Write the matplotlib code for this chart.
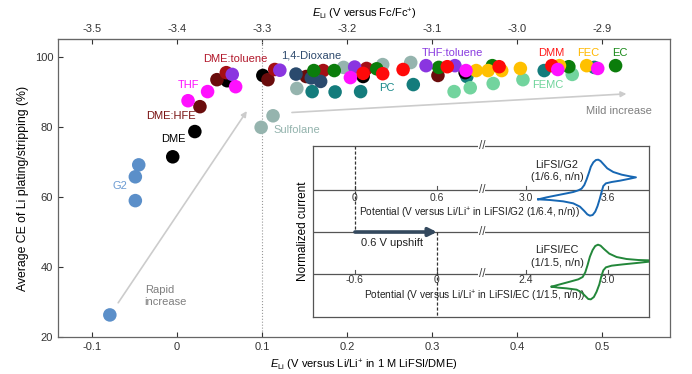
import matplotlib.pyplot as plt
import numpy as np

plt.rcParams['font.family'] = ['Liberation Sans', 'DejaVu Sans']
plt.rcParams['mathtext.fontset'] = 'custom'
plt.rcParams['mathtext.rm'] = 'Liberation Sans'
plt.rcParams['mathtext.it'] = 'Liberation Sans:italic'

# ---- main scatter data (E_Li vs Li/Li+ in 1 M LiFSI/DME, average CE %) ----
g2_x = [-0.079, -0.049, -0.049, -0.045]
g2_y = [26.3, 58.9, 65.7, 69.1]
dme_x = [-0.005, 0.021, 0.059, 0.101, 0.219, 0.339]
dme_y = [71.4, 78.6, 93.1, 94.6, 94.3, 95.4]
hfe_x = [0.027, 0.047, 0.107, 0.152, 0.307]
hfe_y = [85.7, 93.4, 93.4, 94.3, 94.6]
tol_x = [0.058, 0.115, 0.172, 0.223]
tol_y = [95.4, 96.3, 96.0, 96.6]
thf_x = [0.013, 0.036, 0.069, 0.204, 0.340, 0.448, 0.495]
thf_y = [87.4, 90.0, 91.4, 94.0, 96.0, 96.3, 96.6]
thftol_x = [0.065, 0.121, 0.209, 0.293, 0.327]
thftol_y = [94.9, 96.1, 97.0, 97.4, 97.4]
diox_x = [0.140, 0.158, 0.169]
diox_y = [95.0, 93.9, 92.9]
sulf_x = [0.099, 0.113, 0.141, 0.196, 0.242, 0.275]
sulf_y = [79.8, 83.1, 90.9, 96.9, 97.7, 98.3]
pc_x = [0.159, 0.186, 0.216, 0.278, 0.341, 0.432, 0.491]
pc_y = [90.0, 89.9, 90.0, 92.0, 94.3, 96.0, 96.9]
ec_x = [0.161, 0.185, 0.235, 0.308, 0.371, 0.461, 0.516]
ec_y = [96.0, 96.0, 96.5, 96.9, 97.4, 97.1, 97.4]
dmm_x = [0.219, 0.242, 0.266, 0.318, 0.379, 0.441]
dmm_y = [95.2, 95.1, 96.3, 97.1, 97.1, 97.4]
fec_x = [0.352, 0.366, 0.382, 0.404, 0.450, 0.482]
fec_y = [96.0, 96.0, 96.0, 96.6, 97.4, 97.4]
femc_x = [0.326, 0.345, 0.372, 0.407, 0.465]
femc_y = [90.0, 91.1, 92.3, 93.4, 94.9]

# ---- inset CV curves (potential V, normalized current) ----
g2_cv_v = [3.090, 3.151, 3.224, 3.298, 3.346, 3.383, 3.407, 3.427, 3.444, 3.461, 3.475,
           3.493, 3.512, 3.529, 3.546, 3.566, 3.595, 3.639, 3.700, 3.761, 3.805,
           3.761, 3.688, 3.627, 3.585, 3.566, 3.554, 3.541, 3.524, 3.507, 3.488, 3.468,
           3.449, 3.427, 3.395, 3.346, 3.273, 3.176, 3.090]
g2_cv_i = [-0.467, -0.367, -0.267, -0.167, -0.10, -0.017, 0.067, 0.25, 0.533, 0.867, 1.167,
           1.383, 1.50, 1.517, 1.45, 1.30, 1.083, 0.90, 0.767, 0.683, 0.633,
           0.567, 0.467, 0.40, 0.333, 0.20, -0.083, -0.417, -0.80, -1.083, -1.25, -1.283,
           -1.217, -1.05, -0.833, -0.667, -0.567, -0.50, -0.467]
ec_cv_v = [2.588, 2.649, 2.722, 2.783, 2.815, 2.834, 2.851, 2.868, 2.888, 2.907, 2.927,
           2.946, 2.971, 3.010, 3.063, 3.136, 3.222, 3.302,
           3.302, 3.210, 3.112, 3.027, 2.985, 2.966, 2.951, 2.937, 2.917, 2.897, 2.875,
           2.856, 2.834, 2.807, 2.771, 2.697, 2.637, 2.588]
ec_cv_i = [-0.633, -0.517, -0.383, -0.267, -0.15, 0.083, 0.45, 0.867, 1.20, 1.40, 1.467,
           1.417, 1.25, 1.017, 0.85, 0.75, 0.70, 0.683,
           0.617, 0.55, 0.483, 0.417, 0.333, 0.183, -0.133, -0.517, -0.883, -1.15, -1.267,
           -1.25, -1.10, -0.917, -0.783, -0.717, -0.683, -0.633]
upper_ticks = [0, 0.6, 3.0, 3.6]
lower_ticks = [-0.6, 0, 2.4, 3.0]

fig = plt.figure(figsize=(6.92, 3.74), dpi=100)
ax = fig.add_axes([0.0838, 0.0989, 0.8844, 0.7968])

series = [
    (sulf_x, sulf_y, '#95b4ae'),
    (g2_x, g2_y, '#5b8fc9'),
    (pc_x, pc_y, '#147c7c'),
    (femc_x, femc_y, '#72d49e'),
    (dme_x, dme_y, '#000000'),
    (hfe_x, hfe_y, '#6a0c0c'),
    (tol_x, tol_y, '#a50f15'),
    (diox_x, diox_y, '#2a4a6d'),
    (ec_x, ec_y, '#0b7d0b'),
    (thftol_x, thftol_y, '#8a35e0'),
    (fec_x, fec_y, '#ffc000'),
    (dmm_x, dmm_y, '#ff0a0a'),
    (thf_x, thf_y, '#ff10ff'),
]
for xs, ys, c in series:
    ax.scatter(xs, ys, s=95, color=c, edgecolors='none', zorder=3)

ax.axvline(0.1, color='#999999', ls=':', lw=0.8, zorder=1)

ax.set_xlim(-0.14, 0.58)
ax.set_ylim(20, 105)
ax.set_xticks([-0.1, 0, 0.1, 0.2, 0.3, 0.4, 0.5])
ax.set_xticklabels(['-0.1', '0', '0.1', '0.2', '0.3', '0.4', '0.5'])
ax.set_yticks([20, 40, 60, 80, 100])
ax.tick_params(direction='in', length=3.5, labelsize=8, colors='#333333', width=0.8)
for sp in ax.spines.values():
    sp.set_color('#666666')
    sp.set_linewidth(0.9)

sec = ax.secondary_xaxis('top', functions=(lambda x: x - 3.4, lambda x: x + 3.4))
sec.set_xticks([-3.5, -3.4, -3.3, -3.2, -3.1, -3.0, -2.9])
sec.set_xticklabels(['-3.5', '-3.4', '-3.3', '-3.2', '-3.1', '-3.0', '-2.9'])
sec.tick_params(direction='in', length=3.5, labelsize=8, colors='#333333', width=0.8)
sec.spines['top'].set_color('#666666')
sec.set_xlabel(r'$E_{\mathrm{Li}}$ (V versus Fc/Fc$^{+}$)', fontsize=8, labelpad=5)

ax.set_xlabel(r'$E_{\mathrm{Li}}$ (V versus Li/Li$^{+}$ in 1 M LiFSI/DME)', fontsize=8,
              labelpad=4)
ax.set_ylabel('Average CE of Li plating/stripping (%)', fontsize=8.8, labelpad=4)

lab = dict(fontsize=8, ha='center', va='center')
ax.text(0.069, 99.4, 'DME:toluene', color='#b2182b', **lab)
ax.text(0.158, 100.3, '1,4-Dioxane', color='#2f4b6e', **lab)
ax.text(0.014, 92.0, 'THF', color='#ff10ff', **lab)
ax.text(-0.007, 82.9, 'DME:HFE', color='#7a1414', **lab)
ax.text(-0.004, 76.6, 'DME', color='#000000', **lab)
ax.text(-0.067, 63.1, 'G2', color='#6b9bd2', **lab)
ax.text(0.113, 79.1, 'Sulfolane', color='#93b3ad', fontsize=8, ha='left', va='center')
ax.text(0.247, 90.9, 'PC', color='#1a8a8a', **lab)
ax.text(0.324, 100.9, 'THF:toluene', color='#8a3ce0', **lab)
ax.text(0.440, 100.9, 'DMM', color='#ff1a1a', **lab)
ax.text(0.484, 100.9, 'FEC', color='#ffb800', **lab)
ax.text(0.521, 100.9, 'EC', color='#1a8a1a', **lab)
ax.text(0.436, 92.0, 'FEMC', color='#6fd49b', **lab)
ax.text(0.559, 84.6, 'Mild increase', color='#7f7f7f', fontsize=8, ha='right', va='center')
ax.text(-0.038, 31.7, 'Rapid\nincrease', color='#7f7f7f', fontsize=8, ha='left', va='center',
        linespacing=1.2)

arw = dict(arrowstyle='-|>', color='#cccccc', lw=1.2, mutation_scale=8)
ax.annotate('', xy=(0.084, 85.1), xytext=(-0.071, 29.1), arrowprops=arw, zorder=2)
ax.annotate('', xy=(0.532, 89.4), xytext=(0.132, 84.0), arrowprops=arw, zorder=2)

# ---- inset ----
ins = fig.add_axes([0.4523, 0.1524, 0.4855, 0.4572])
ins.set_facecolor('white')
ins.set_xlim(-0.307, 2.151)
ins.set_ylim(0, 8.55)
ins.set_xticks([])
ins.set_yticks([])
for sp in ins.spines.values():
    sp.set_color('#555555')
    sp.set_linewidth(0.9)


def disp(v):
    # broken potential axis: left part as is, right part shifted next to the break
    v = np.asarray(v, dtype=float)
    return np.where(v < 1.5, v, v - 3.0 + 1.251)


y_up, y_mid, y_low = 6.35, 4.25, 2.15
for yl in (y_up, y_mid, y_low):
    ins.axhline(yl, color='#555555', lw=0.9)

brk_x = 0.929
for yb in (8.55, y_up, y_mid, y_low):
    ins.text(brk_x, yb, '//', fontsize=8.5, color='#444444', ha='center', va='center',
             bbox=dict(facecolor='white', edgecolor='none', pad=0.2), clip_on=False, zorder=5)

for t in upper_ticks:
    ins.plot([disp(t), disp(t)], [y_up, y_up + 0.18], color='#555555', lw=0.8)
    ins.text(disp(t), y_up - 0.4, f'{t:g}' if t < 1 else f'{t:.1f}', fontsize=7.5,
             ha='center', va='center', color='#333333')
for t in lower_ticks:
    d = disp(t + 0.6)
    ins.plot([d, d], [y_low, y_low + 0.18], color='#555555', lw=0.8)
    ins.text(d, y_low - 0.3, f'{t:g}' if t < 1 else f'{t:.1f}', fontsize=7.5,
             ha='center', va='center', color='#333333')

ins.plot(disp(g2_cv_v), y_up + np.array(g2_cv_i), color='#1767b3', lw=1.4, zorder=4,
         solid_joinstyle='round')
ins.plot(disp(np.array(ec_cv_v) + 0.6), y_low + np.array(ec_cv_i), color='#23873a', lw=1.4,
         zorder=4, solid_joinstyle='round')

ins.plot([0, 0], [8.55, y_mid], color='#333333', ls=(0, (2.5, 1.5)), lw=0.9)
ins.plot([0.6, 0.6], [y_mid, 0], color='#333333', ls=(0, (2.5, 1.5)), lw=0.9)
ins.annotate('', xy=(0.6, y_mid), xytext=(0.0, y_mid),
             arrowprops=dict(arrowstyle='-|>', color='#34495e', lw=2.6, mutation_scale=12,
                             shrinkA=0, shrinkB=0), zorder=6)

ins.text(0.274, 3.7, '0.6 V upshift', fontsize=8, ha='center', va='center', color='#222222')
ins.text(0.841, 5.2, r'Potential (V versus Li/Li$^{+}$ in LiFSI/G2 (1/6.4, n/n))', fontsize=7.3,
         ha='center', va='center', color='#222222')
ins.text(0.874, 1.05, r'Potential (V versus Li/Li$^{+}$ in LiFSI/EC (1/1.5, n/n))', fontsize=7.3,
         ha='center', va='center', color='#222222')
ins.text(1.478, 7.3, 'LiFSI/G2\n(1/6.6, n/n)', fontsize=7.8, ha='center', va='center',
         color='#222222', linespacing=1.3)
ins.text(1.478, 3.03, 'LiFSI/EC\n(1/1.5, n/n)', fontsize=7.8, ha='center', va='center',
         color='#222222', linespacing=1.3)
ins.set_ylabel('Normalized current', fontsize=8.5, labelpad=3)

fig.savefig('out.png', dpi=100)
